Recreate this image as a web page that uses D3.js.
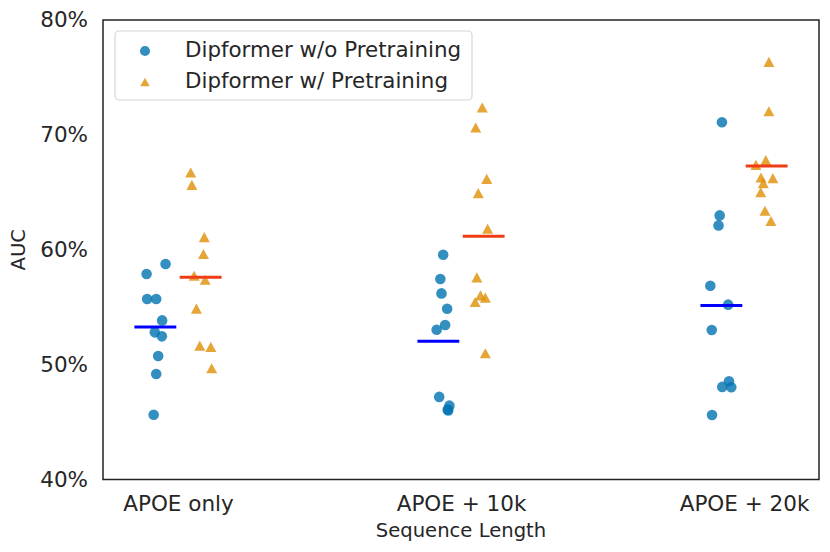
<!DOCTYPE html>
<html>
<head>
<meta charset="utf-8">
<script src="https://cdn.jsdelivr.net/npm/d3@7"></script>
<style>
  body { margin: 0; background: #fff; }
  svg { display: block; font-family: "DejaVu Sans", sans-serif; }
</style>
</head>
<body>
<div id="chart"></div>
<script>
// categories on the x axis
const categories = ['APOE only', 'APOE + 10k', 'APOE + 20k'];
const seriesNames = ['Dipformer w/o Pretraining', 'Dipformer w/ Pretraining'];

// AUC (%) per run, one inner array per category
const noPretrain = [
  [58.76, 57.89, 55.71, 55.71, 53.85, 52.81, 52.46, 50.75, 49.19, 45.63],
  [59.57, 57.45, 56.20, 54.87, 53.45, 53.04, 47.19, 46.43, 46.09, 46.00],
  [71.10, 62.99, 62.12, 56.87, 55.22, 53.01, 48.55, 48.06, 48.03, 45.62]
];
const withPretrain = [
  [66.72, 65.65, 61.10, 59.63, 57.74, 57.39, 54.87, 51.65, 51.54, 49.68],
  [72.38, 70.64, 66.17, 64.93, 61.83, 57.59, 56.03, 55.83, 55.45, 50.99],
  [76.35, 72.06, 67.80, 67.39, 66.29, 66.23, 65.80, 65.01, 63.39, 62.50]
];

// strip jitter (category units)
const noPretrainJitter = [
  [0.036, -0.031, -0.029, 0.003, 0.024, -0.002, 0.023, 0.010, 0.003, -0.006],
  [0.017, 0.007, 0.011, 0.031, 0.024, -0.006, 0.003, 0.039, 0.033, 0.035],
  [0.002, -0.006, -0.010, -0.039, 0.024, -0.034, 0.027, 0.003, 0.035, -0.033]
];
const withPretrainJitter = [
  [-0.035, -0.031, 0.013, 0.010, -0.023, 0.016, -0.015, -0.003, 0.036, 0.039],
  [-0.005, -0.028, 0.011, -0.019, 0.014, -0.024, -0.011, 0.006, -0.030, 0.006],
  [0.008, 0.008, -0.003, -0.038, -0.020, 0.022, -0.012, -0.021, -0.006, 0.015]
];

const yTicks = [40, 50, 60, 70, 80];

const width = 830, height = 552;
const mLeft = 103, mRight = 819, mTop = 20, mBottom = 479.5;
const textColor = '#262626';
const dodge = 0.08, meanHalf = 0.074;

const svg = d3.select('#chart').append('svg')
  .attr('width', width)
  .attr('height', height);

const x = d3.scaleLinear().domain([-0.265, 2.265]).range([mLeft, mRight]);
const y = d3.scaleLinear().domain([40, 80]).range([mBottom, mTop]);

// matplotlib-style '^' marker, centred on its bounding box
const triangle = {
  draw(ctx, size) {
    const w = Math.sqrt(size), h = w * 0.92;
    ctx.moveTo(0, -h / 2);
    ctx.lineTo(w / 2, h / 2);
    ctx.lineTo(-w / 2, h / 2);
    ctx.closePath();
  }
};

const series = [
  { name: seriesNames[0], values: noPretrain, jitter: noPretrainJitter, off: -dodge,
    color: '#0173b2', mean: '#0000ff', shape: d3.symbolCircle, size: 88 },
  { name: seriesNames[1], values: withPretrain, jitter: withPretrainJitter, off: dodge,
    color: '#de8f05', mean: '#f03c14', shape: triangle, size: 121 }
];

// axes
svg.append('g')
  .attr('transform', `translate(${mLeft},0)`)
  .call(d3.axisLeft(y).tickValues(yTicks).tickFormat(d => d + '%').tickSize(0).tickPadding(15))
  .call(g => g.select('.domain').remove())
  .call(g => g.selectAll('text').attr('fill', textColor).attr('font-size', 21.5)
    .attr('font-family', '"DejaVu Sans", sans-serif'));

svg.append('g')
  .attr('transform', `translate(0,${mBottom})`)
  .call(d3.axisBottom(x).tickValues([0, 1, 2]).tickFormat(i => categories[i]).tickSize(0).tickPadding(16))
  .call(g => g.select('.domain').remove())
  .call(g => g.selectAll('text').attr('fill', textColor).attr('font-size', 21.5)
    .attr('font-family', '"DejaVu Sans", sans-serif'));

svg.append('text')
  .attr('x', (mLeft + mRight) / 2)
  .attr('y', 537)
  .attr('text-anchor', 'middle')
  .attr('font-size', 19.6)
  .attr('fill', textColor)
  .text('Sequence Length');

svg.append('text')
  .attr('transform', `translate(25,${(mTop + mBottom) / 2}) rotate(-90)`)
  .attr('text-anchor', 'middle')
  .attr('font-size', 19.6)
  .attr('fill', textColor)
  .text('AUC');

// points
series.forEach(s => {
  const pts = [];
  s.values.forEach((vals, ci) => vals.forEach((v, j) => pts.push({ cx: ci + s.off + s.jitter[ci][j], v })));
  svg.append('g')
    .selectAll('path')
    .data(pts)
    .join('path')
    .attr('d', d3.symbol().type(s.shape).size(s.size))
    .attr('transform', d => `translate(${x(d.cx)},${y(d.v)})`)
    .attr('fill', s.color)
    .attr('fill-opacity', 0.8);
});

// mean lines on top
series.forEach(s => {
  svg.append('g')
    .selectAll('line')
    .data(s.values.map((vals, ci) => ({ ci, m: d3.mean(vals) })))
    .join('line')
    .attr('x1', d => x(d.ci + s.off - meanHalf))
    .attr('x2', d => x(d.ci + s.off + meanHalf))
    .attr('y1', d => y(d.m))
    .attr('y2', d => y(d.m))
    .attr('stroke', s.mean)
    .attr('stroke-width', 3);
});

// frame
svg.append('rect')
  .attr('x', mLeft).attr('y', mTop)
  .attr('width', mRight - mLeft).attr('height', mBottom - mTop)
  .attr('fill', 'none')
  .attr('stroke', '#222')
  .attr('stroke-width', 1.5);

// legend
const legend = svg.append('g');
legend.append('rect')
  .attr('x', 115).attr('y', 31)
  .attr('width', 357).attr('height', 69)
  .attr('rx', 4)
  .attr('fill', '#fff').attr('fill-opacity', 0.8)
  .attr('stroke', '#d6d6d6').attr('stroke-width', 1.2);

series.forEach((s, i) => {
  const cy = 51 + i * 31;
  legend.append('path')
    .attr('d', d3.symbol().type(s.shape).size(i ? 90 : 80)())
    .attr('transform', `translate(145,${cy})`)
    .attr('fill', s.color)
    .attr('fill-opacity', 0.8);
  legend.append('text')
    .attr('x', 185)
    .attr('y', cy + 5.5)
    .attr('font-size', 21.4)
    .attr('fill', textColor)
    .text(s.name);
});
</script>
</body>
</html>
